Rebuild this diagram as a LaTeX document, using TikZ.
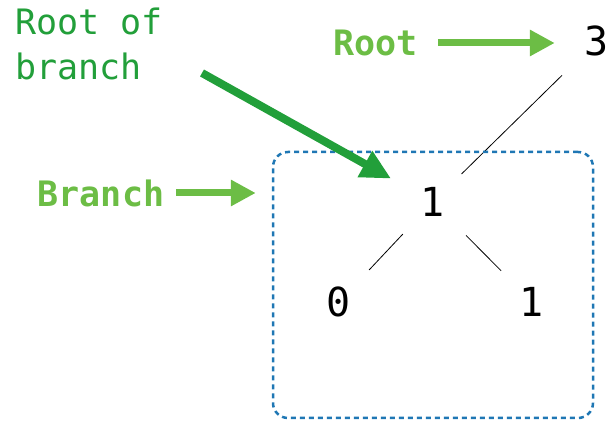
\documentclass[tikz,border=0pt]{standalone}
\usepackage{fontspec}
\setmonofont{DejaVu Sans Mono}
\usepackage{xcolor}
\usepackage{tikz}
\usetikzlibrary{arrows.meta, positioning}
\definecolor{cROOT}{HTML}{6CBD45}
\definecolor{cSUB}{HTML}{229F3A}
\definecolor{cBOX}{HTML}{1F77B4}

\begin{document}
\begin{tikzpicture}[x=1pt, y=1pt,
  lbl/.style={inner sep=0pt, font=\ttfamily\fontsize{35}{45}\selectfont},
  num/.style={inner sep=0pt, font=\ttfamily\fontsize{40}{48}\selectfont},
  pointer/.style={line width=7pt, -{Triangle[length=25pt, width=25pt]}},
  edge/.style={line width=0.8pt, black}]
  \useasboundingbox (0,0) rectangle (611,425);

  % Tree values
  \node[num] (three) at (597,384) {3};
  \node[num] (one) at (433,223) {1};
  \node[num] (zero) at (339,123) {0};
  \node[num] (oneR) at (532,123) {1};

  \draw[edge, shorten <=49pt, shorten >=40pt] (three.center) -- (one.center);
  \draw[edge, shorten <=44pt, shorten >=44pt] (one.center) -- (zero.center);
  \draw[edge, shorten <=47pt, shorten >=44pt] (one.center) -- (oneR.center);

  % Branch box
  \node[draw=cBOX, line width=2.5pt, dash pattern=on 5pt off 4pt, rounded corners=15pt,
        minimum width=320pt, minimum height=266pt] (box) at (433,140) {};

  % Labels
  \node[lbl, cROOT, font=\ttfamily\bfseries\fontsize{35}{45}\selectfont] (root) at (375.5,382) {Root};
  \node[lbl, cROOT, font=\ttfamily\bfseries\fontsize{35}{45}\selectfont] (branch) at (101,232) {Branch};
  \node[lbl, cSUB, align=left, anchor=north west] (rootbranch) at (15,417) {Root of\\branch};
  \coordinate (rbstart) at (202,352);

  % Pointers
  \draw[pointer, cROOT, shorten <=20pt, shorten >=30pt] (root.east) -- (root.east -| three.west);
  \draw[pointer, cROOT, shorten <=12pt, shorten >=16pt] (branch.east) -- (branch.east -| box.west);
  \draw[pointer, cSUB, line width=8pt, -{Triangle[length=30pt, width=28pt]}, shorten >=48pt] (rbstart) -- (one.center);
\end{tikzpicture}
\end{document}
